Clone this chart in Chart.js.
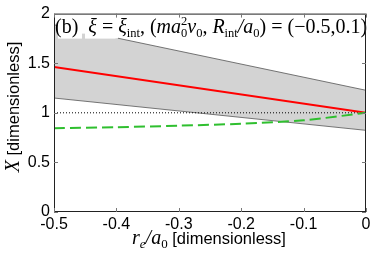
<!DOCTYPE html>
<html>
<head>
<meta charset="utf-8">
<script src="https://cdn.jsdelivr.net/npm/chart.js@4/dist/chart.umd.min.js"></script>
<style>
  html, body { margin: 0; padding: 0; background: #fff; }
  canvas { display: block; }
</style>
</head>
<body>
<canvas id="myChart" width="374" height="258"></canvas>
<script>
// values
const xEnds = [-0.5, 0];
const bandUpper = [1.887, 1.227];
const bandLower = [1.149, 0.823];
const redLine = [1.462, 1.0];
const xGreen = [-0.5, -0.4, -0.3, -0.2, -0.1, 0];
const greenLine = [0.845, 0.855, 0.87, 0.89, 0.925, 1.0];
const refLine = [1.0, 1.0];
const xTicks = [-0.5, -0.4, -0.3, -0.2, -0.1, 0];
const yTicks = [0, 0.5, 1, 1.5, 2];

const pts = (xs, ys) => xs.map((x, i) => ({ x: x, y: ys[i] }));

const SERIF = '"Liberation Serif", "DejaVu Serif", serif';
const SANS = '"Liberation Sans", Arial, sans-serif';

// draw a list of runs: [text, style, size, dy, family]
function drawRuns(ctx, runs, x, y) {
    let cx = x;
    runs.forEach((r) => {
        if (r.stack) {
            ctx.font = r.stack[0][1] + ' ' + r.stack[0][2] + 'px ' + SERIF;
            const w1 = ctx.measureText(r.stack[0][0]).width;
            ctx.fillText(r.stack[0][0], cx, y + r.stack[0][3]);
            ctx.font = r.stack[1][1] + ' ' + r.stack[1][2] + 'px ' + SERIF;
            const w2 = ctx.measureText(r.stack[1][0]).width;
            ctx.fillText(r.stack[1][0], cx, y + r.stack[1][3]);
            cx += Math.max(w1, w2);
            return;
        }
        ctx.font = r[1] + ' ' + r[2] + 'px ' + (r[4] || SERIF);
        ctx.fillText(r[0], cx, y + r[3]);
        cx += ctx.measureText(r[0]).width;
    });
    return cx - x;
}

function measureRuns(ctx, runs) {
    let w = 0;
    runs.forEach((r) => {
        if (r.stack) {
            ctx.font = r.stack[0][1] + ' ' + r.stack[0][2] + 'px ' + SERIF;
            const w1 = ctx.measureText(r.stack[0][0]).width;
            ctx.font = r.stack[1][1] + ' ' + r.stack[1][2] + 'px ' + SERIF;
            const w2 = ctx.measureText(r.stack[1][0]).width;
            w += Math.max(w1, w2);
            return;
        }
        ctx.font = r[1] + ' ' + r[2] + 'px ' + (r[4] || SERIF);
        w += ctx.measureText(r[0]).width;
    });
    return w;
}

const framePlugin = {
    id: 'frame',
    afterDatasetsDraw(chart) {
        const ctx = chart.ctx;
        const a = chart.chartArea;
        const xs = chart.scales.x;
        const ys = chart.scales.y;
        ctx.save();

        // white boxes behind the label
        ctx.fillStyle = '#fff';
        ctx.fillRect(a.left + 4, a.top + 1, 24, 24);
        ctx.fillRect(a.left + 28, a.top + 1, 3, 19);
        ctx.fillRect(a.left + 31, a.top + 1, 33, 24);

        // label text
        const big = 20, sub = 12.5;
        const label = [
            ['(b)', 'normal', big, 0],
            ['  ', 'normal', big, 0],
            ['\u03be', 'italic', big, 0],
            [' = ', 'normal', big, 0],
            ['\u03be', 'italic', big, 0],
            ['int', 'normal', sub, 4],
            [', (', 'normal', big, 0],
            ['ma', 'italic', big, 0],
            { stack: [['0', 'normal', sub, 4], ['2', 'normal', sub, -8]] },
            ['\u03bd', 'italic', big, 0],
            ['0', 'normal', sub, 4],
            [', ', 'normal', big, 0],
            ['R', 'italic', big, 0],
            ['int', 'normal', sub, 4],
            ['/', 'italic', big, 0],
            ['a', 'italic', big, 0],
            ['0', 'normal', sub, 4],
            [') = (\u22120.5,0.1)', 'normal', big, 0]
        ];
        ctx.fillStyle = '#000';
        ctx.textBaseline = 'alphabetic';
        ctx.textAlign = 'left';
        drawRuns(ctx, label, a.left + 1, a.top + 19.5);

        // frame
        ctx.strokeStyle = '#222';
        ctx.lineWidth = 1;
        ctx.strokeRect(a.left + 0.5, a.top + 0.5, a.right - a.left - 1, a.bottom - a.top - 1);

        // inward ticks
        ctx.strokeStyle = '#777';
        ctx.beginPath();
        xTicks.forEach((v) => {
            const px = Math.round(xs.getPixelForValue(v)) + 0.5;
            ctx.moveTo(px, a.bottom); ctx.lineTo(px, a.bottom - 4);
            ctx.moveTo(px, a.top); ctx.lineTo(px, a.top + 4);
        });
        yTicks.forEach((v) => {
            const py = Math.round(ys.getPixelForValue(v)) + 0.5;
            ctx.moveTo(a.left, py); ctx.lineTo(a.left + 4, py);
            ctx.moveTo(a.right, py); ctx.lineTo(a.right - 4, py);
        });
        ctx.stroke();

        // x axis title
        const xt = [
            ['r', 'italic', 20, 0],
            ['e', 'italic', 13, 4],
            ['/', 'italic', 20, 0],
            ['a', 'italic', 20, 0],
            ['0', 'normal', 13, 4],
            [' [dimensionless]', 'normal', 16.5, 0, SANS]
        ];
        ctx.fillStyle = '#000';
        const wx = measureRuns(ctx, xt);
        drawRuns(ctx, xt, 209 - wx / 2, 244);

        // y axis title
        const yt = [
            ['X', 'italic', 20, 0],
            [' [dimensionless]', 'normal', 16.5, 0, SANS]
        ];
        const wy = measureRuns(ctx, yt);
        ctx.translate(19, 107);
        ctx.rotate(-Math.PI / 2);
        drawRuns(ctx, yt, -wy / 2, 0);

        ctx.restore();
    }
};

const fmt = (v) => {
    if (Math.abs(v) < 1e-9) return '0';
    return String(Math.round(v * 10) / 10);
};

const ctx = document.getElementById('myChart').getContext('2d');
const myChart = new Chart(ctx, {
    type: 'line',
    data: {
        datasets: [{
            data: pts(xGreen, greenLine),
            borderColor: '#2fbf2f',
            borderWidth: 2,
            borderDash: [11, 5],
            pointRadius: 0,
            tension: 0.3,
            fill: false
        }, {
            data: pts(xEnds, redLine),
            borderColor: '#ff0000',
            borderWidth: 2,
            pointRadius: 0,
            fill: false
        }, {
            data: pts(xEnds, refLine),
            borderColor: '#000',
            borderWidth: 1,
            borderDash: [1, 2],
            pointRadius: 0,
            fill: false
        }, {
            data: pts(xEnds, bandLower),
            borderColor: '#555',
            borderWidth: 0.8,
            pointRadius: 0,
            fill: false
        }, {
            data: pts(xEnds, bandUpper),
            borderColor: '#555',
            borderWidth: 0.8,
            pointRadius: 0,
            backgroundColor: '#d3d3d3',
            fill: '-1'
        }]
    },
    options: {
        responsive: false,
        animation: false,
        devicePixelRatio: 1,
        layout: { padding: { top: 8, right: 8, left: 0, bottom: 0 } },
        plugins: {
            legend: { display: false },
            tooltip: { enabled: false }
        },
        scales: {
            x: {
                type: 'linear',
                min: -0.5,
                max: 0,
                afterFit: (s) => { s.height = 46; },
                afterBuildTicks: (s) => { s.ticks = xTicks.map((v) => ({ value: v })); },
                grid: { drawOnChartArea: false, drawTicks: false },
                border: { display: false },
                ticks: {
                    padding: 3,
                    color: '#000',
                    font: { family: SANS, size: 16 },
                    maxRotation: 0,
                    callback: fmt
                }
            },
            y: {
                min: 0,
                max: 2,
                afterFit: (s) => { s.width = 54; },
                afterBuildTicks: (s) => { s.ticks = yTicks.map((v) => ({ value: v })); },
                grid: { drawOnChartArea: false, drawTicks: false },
                border: { display: false },
                ticks: {
                    padding: 4,
                    color: '#000',
                    font: { family: SANS, size: 16 },
                    callback: fmt
                }
            }
        }
    },
    plugins: [framePlugin]
});
</script>
</body>
</html>
